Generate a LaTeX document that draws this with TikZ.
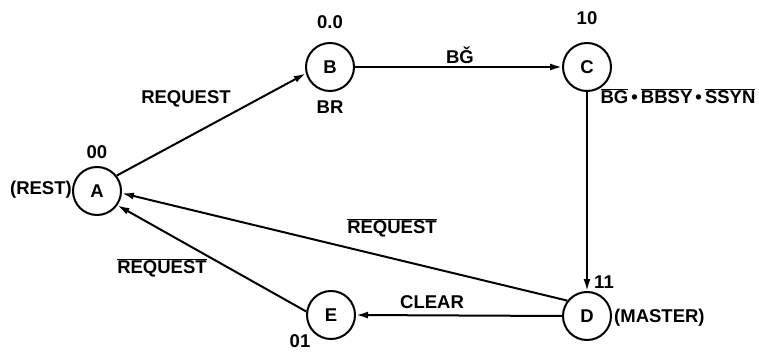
\documentclass[tikz,border=0pt]{standalone}
\usepackage{fontspec}
\setmainfont{Liberation Sans}
\usetikzlibrary{arrows.meta}
\newcommand\ovl[1]{$\overline{\hbox{#1}}$}
\begin{document}
\begin{tikzpicture}[x=1pt,y=-1pt,
  font=\fontsize{18.5}{20}\selectfont\bfseries,
  state/.style={draw,circle,line width=2pt,minimum size=48pt,inner sep=0pt},
  lbl/.style={inner sep=1pt},
  conn/.style={line width=2pt,-{Latex[length=12pt,width=7pt]}}]
\useasboundingbox (0,0) rectangle (759,352);
\node[state] (A) at (97,191) {A};
\node[state] (B) at (330,67) {B};
\node[state] (C) at (587,67) {C};
\node[state] (D) at (587,316) {D};
\node[state] (E) at (331,315) {E};
% state labels
\node[lbl] (lA) at (97,152) {00};
\node[lbl,anchor=east] (rest) at (73,190) {(REST)};
\node[lbl] (lB) at (330,22) {0.0};
\node[lbl] (br) at (330,107) {BR};
\node[lbl] (lC) at (587,18) {10};
\node[lbl] (lD) at (604,282) {11};
\node[lbl,anchor=west] (master) at (613,318) {(MASTER)};
\node[lbl] (lE) at (300,341) {01};
% connectors
\draw[conn] (A.38) -- (B.195);
\draw[conn] (B.east) -- (C.west);
\draw[conn] (C.south) -- (D.north);
\draw[conn] (D.west) -- (E.east);
\draw[conn] (D.142) -- (A.-5);
\draw[conn] (E.172) -- (A.-35);
% connector labels
\node[lbl] (t1) at (186,99) {REQUEST};
\node[lbl] (t2) at (460,55) {BǦ};
\node[lbl] (t3) at (678,96) {\ovl{BG}\,•\,\ovl{BBSY}\,•\,\ovl{SSYN}};
\node[lbl] (t4) at (392,228) {\ovl{REQUEST}};
\node[lbl] (t5) at (162,268) {\ovl{REQUEST}};
\node[lbl] (t6) at (432,302) {CLEAR};
\end{tikzpicture}
\end{document}
